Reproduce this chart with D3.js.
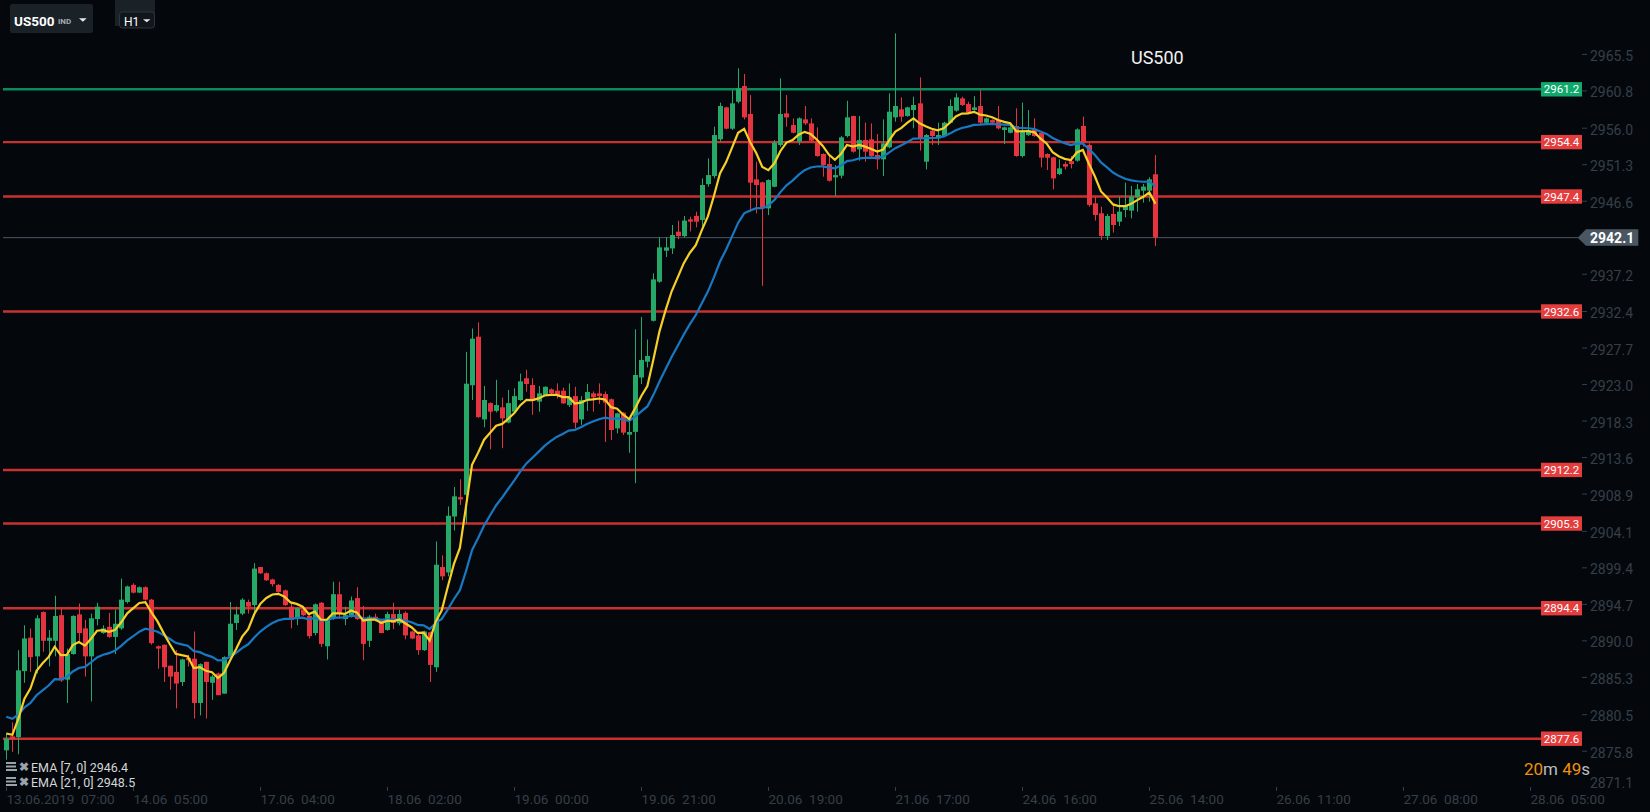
<!DOCTYPE html>
<html><head><meta charset="utf-8">
<script src="https://cdn.jsdelivr.net/npm/d3@7"></script>
<style>html,body{margin:0;padding:0;background:#04080c;overflow:hidden}svg{display:block;font-family:Roboto,"Noto Sans",sans-serif}</style>
</head><body><svg id="c" width="1650" height="812"></svg>
<script>
// ---- data (hourly US500 candles, 13.06.2019 07:00 -> 25.06 15:00) ----
const opens = [2876.1,2877.9,2877.8,2886.3,2890.6,2888.2,2893.9,2890.2,2890.2,2893.5,2885.2,2888.5,2893.6,2891.8,2888.2,2893.0,2891.2,2892.0,2890.7,2891.8,2895.2,2897.4,2896.4,2897.1,2895.5,2889.5,2889.7,2887.0,2886.2,2884.9,2888.0,2887.9,2882.2,2887.5,2884.8,2886.0,2883.4,2888.2,2892.5,2893.7,2895.2,2894.8,2899.7,2898.9,2898.1,2897.4,2896.7,2894.6,2893.0,2894.2,2893.4,2891.2,2895.1,2889.5,2893.1,2896.2,2893.0,2893.5,2895.7,2893.0,2890.2,2893.3,2892.8,2891.6,2893.65,2892.45,2893.8,2891.4,2890.9,2889.0,2891.3,2886.8,2899.7,2899.0,2906.2,2908.7,2909.0,2923.1,2929.35,2918.7,2920.8,2919.8,2920.26,2918.3,2919.7,2921.2,2924.0,2923.13,2921.0,2921.85,2922.57,2922.4,2922.4,2920.55,2921.7,2918.7,2921.3,2922.06,2922.06,2921.97,2921.3,2917.55,2919.57,2916.74,2917.1,2924.1,2926.13,2931.4,2936.43,2940.42,2940.72,2942.87,2942.3,2944.46,2944.9,2944.37,2948.99,2950.03,2954.76,2958.87,2956.13,2959.6,2961.62,2958.02,2949.61,2949.22,2945.87,2948.66,2954.03,2958.1,2956.6,2954.45,2957.33,2956.81,2954.45,2952.87,2951.58,2949.86,2950.08,2955.18,2957.76,2953.47,2954.67,2954.76,2952.74,2952.18,2953.73,2957.59,2958.62,2957.76,2958.53,2959.39,2951.88,2955.87,2954.88,2955.18,2956.9,2958.45,2960.03,2959.3,2958.53,2959.05,2956.9,2957.24,2957.24,2955.96,2955.61,2956.47,2952.61,2955.31,2956.04,2955.61,2952.87,2952.44,2950.29,2951.58,2951.95,2952.01,2956.48,2954.03,2946.52,2945.24,2942.32,2945.15,2944.16,2945.66,2945.58,2947.3,2948.15,2948.15,2950.26];
const highs = [2878.3,2879.7,2889.0,2892.2,2891.8,2893.5,2894.0,2891.6,2896.0,2894.4,2889.2,2893.5,2895.0,2892.9,2893.7,2895.1,2892.2,2893.8,2894.2,2898.2,2897.3,2897.6,2897.2,2897.2,2895.6,2889.6,2889.7,2887.0,2889.0,2887.9,2888.4,2891.4,2887.3,2887.5,2885.8,2886.1,2888.2,2895.2,2894.6,2895.7,2895.5,2900.2,2899.7,2899.0,2898.2,2897.5,2896.8,2895.0,2894.5,2894.4,2893.5,2895.0,2895.2,2893.1,2897.8,2897.8,2894.6,2895.9,2897.1,2894.7,2893.5,2893.7,2892.9,2893.95,2895.1,2894.2,2894.0,2891.5,2891.1,2891.5,2891.4,2903.0,2901.2,2907.5,2910.0,2911.0,2927.4,2930.4,2931.2,2923.0,2920.9,2923.8,2921.5,2922.5,2922.7,2924.6,2925.1,2924.0,2923.0,2922.95,2922.7,2923.34,2922.8,2923.34,2922.9,2921.7,2923.26,2922.3,2923.34,2922.3,2921.4,2919.57,2919.65,2918.4,2930.3,2931.9,2929.0,2937.5,2942.14,2942.14,2943.73,2944.28,2944.9,2944.8,2945.44,2949.73,2952.31,2956.39,2959.48,2958.96,2961.11,2963.9,2963.17,2960.46,2951.88,2949.31,2949.61,2954.67,2962.61,2960.46,2957.46,2957.59,2959.05,2957.46,2956.3,2952.95,2952.61,2951.45,2955.18,2959.73,2957.8,2957.76,2956.9,2956.81,2955.44,2957.33,2960.68,2968.4,2960.16,2958.96,2960.25,2962.74,2955.44,2955.96,2956.9,2957.03,2959.9,2960.68,2960.25,2959.6,2960.33,2961.11,2957.59,2957.33,2959.05,2956.39,2956.6,2958.75,2959.48,2958.53,2957.46,2955.74,2952.95,2952.52,2952.18,2951.88,2952.6,2956.17,2957.68,2954.25,2947.38,2946.09,2945.15,2946.31,2947.38,2949.18,2948.75,2949.01,2949.01,2949.87,2952.75];
const lows = [2874.9,2875.9,2875.6,2884.8,2886.2,2886.0,2888.8,2886.9,2888.2,2884.9,2882.2,2888.4,2890.1,2885.6,2882.4,2892.2,2891.1,2890.6,2888.5,2891.6,2895.0,2896.3,2896.4,2895.4,2889.7,2886.6,2884.9,2883.9,2881.5,2884.4,2886.9,2880.2,2880.6,2880.2,2882.6,2883.2,2883.4,2887.7,2891.6,2893.5,2893.7,2893.7,2898.8,2897.9,2897.2,2896.4,2894.7,2891.8,2892.2,2893.4,2890.5,2890.9,2889.4,2887.8,2892.9,2893.1,2892.2,2893.2,2892.9,2887.7,2889.4,2892.7,2891.2,2891.5,2891.7,2892.2,2890.4,2890.4,2888.4,2888.9,2884.9,2886.2,2898.0,2898.5,2904.4,2907.7,2905.3,2921.2,2918.9,2917.7,2914.85,2919.6,2915.0,2918.2,2919.5,2921.1,2922.27,2919.3,2919.7,2921.8,2921.95,2921.4,2920.7,2920.3,2917.55,2918.0,2919.8,2919.7,2920.7,2915.8,2916.05,2916.9,2916.7,2914.4,2910.5,2923.26,2925.4,2931.3,2936.3,2939.6,2940.0,2941.9,2942.14,2942.9,2943.43,2943.51,2948.66,2949.73,2954.45,2956.04,2955.96,2959.39,2957.33,2945.44,2945.23,2935.9,2945.01,2948.58,2953.81,2956.39,2955.53,2954.03,2956.6,2954.45,2952.52,2949.95,2949.31,2947.46,2949.73,2955.01,2953.04,2952.01,2951.88,2952.52,2950.89,2950.03,2953.6,2957.03,2957.03,2957.67,2956.17,2953.3,2950.89,2954.03,2954.03,2955.1,2956.81,2958.32,2959.05,2958.1,2958.45,2956.73,2956.81,2956.81,2956.04,2954.15,2955.53,2952.52,2952.44,2955.18,2955.1,2951.15,2950.81,2948.32,2950.16,2950.89,2951.02,2951.88,2953.82,2946.09,2944.29,2941.8,2941.8,2942.75,2943.6,2944.72,2944.59,2945.45,2946.61,2946.74,2941.03];
const closes = [2877.6,2877.6,2886.4,2890.5,2888.1,2893.1,2890.2,2890.6,2893.4,2885.1,2888.5,2893.4,2891.2,2888.2,2893.1,2894.6,2891.8,2890.7,2892.4,2895.5,2897.2,2896.4,2897.1,2895.5,2889.9,2889.2,2886.8,2885.6,2884.7,2887.8,2887.7,2882.2,2887.2,2884.9,2885.6,2883.2,2888.1,2892.4,2893.6,2895.5,2894.6,2899.5,2898.9,2898.0,2897.5,2896.5,2894.8,2892.9,2894.4,2893.5,2890.8,2894.9,2889.8,2892.9,2896.2,2893.7,2893.5,2895.4,2893.0,2889.8,2893.3,2892.9,2891.2,2893.65,2892.5,2893.65,2890.9,2890.5,2889.0,2891.4,2887.1,2900.0,2898.5,2906.3,2908.8,2908.4,2923.3,2929.1,2919.0,2921.2,2919.7,2920.55,2918.84,2920.8,2921.7,2923.6,2923.26,2921.1,2922.06,2922.9,2922.06,2921.85,2920.77,2921.55,2918.28,2921.2,2922.23,2921.55,2921.7,2920.86,2917.34,2919.48,2917.0,2917.08,2924.42,2926.35,2926.86,2936.73,2940.85,2940.85,2942.44,2942.3,2944.3,2944.16,2944.16,2948.88,2950.16,2955.31,2959.05,2956.13,2959.39,2961.32,2957.59,2949.18,2948.88,2945.87,2949.52,2954.33,2958.02,2957.59,2955.61,2957.46,2956.81,2954.58,2952.61,2951.45,2949.43,2950.16,2955.01,2957.59,2953.17,2954.67,2953.17,2952.61,2952.18,2954.24,2958.32,2959.05,2957.67,2958.87,2959.18,2954.88,2955.31,2955.18,2955.31,2956.9,2959.05,2960.16,2959.18,2958.19,2958.87,2956.9,2957.46,2956.9,2956.17,2956.3,2956.3,2952.61,2955.87,2955.87,2955.18,2952.4,2952.4,2949.73,2951.02,2951.24,2951.58,2956.04,2954.33,2946.31,2945.02,2942.32,2944.89,2943.73,2945.45,2946.18,2947.38,2948.33,2948.67,2949.61,2942.1];

const xTickIndex = [0,21,42,63,84,105,126,147,168,189,210,231,252];
const xTickLabels = ["13.06.2019  07:00","14.06  05:00","17.06  04:00","18.06  02:00","19.06  00:00","19.06  21:00","20.06  19:00","21.06  17:00","24.06  16:00","25.06  14:00","26.06  11:00","27.06  08:00","28.06  05:00"];
const yTickLabels = ["2965.5","2960.8","2956.0","2951.3","2946.6","2941.9","2937.2","2932.4","2927.7","2923.0","2918.3","2913.6","2908.9","2904.1","2899.4","2894.7","2890.0","2885.3","2880.5","2875.8","2871.1"];
const supportLevels = [2954.4, 2947.4, 2932.6, 2912.2, 2905.3, 2894.4, 2877.6];
const resistanceLevels = [2961.2];
const lastPrice = 2942.1;
const ema7Start = 2878.5, ema21Start = 2880.7; // indicator values before first candle
const legendRows = ["EMA [7, 0] 2946.4", "EMA [21, 0] 2948.5"];

// ---- drawing ----
const svg = d3.select("#c");
const W = 1650, H = 812;
const C = {bg:"#04080c", up:"#26a869", down:"#e5343f", red:"#c93030", green:"#0b8a5a",
  redBox:"#e43d3d", greenBox:"#10a86c", axis:"#363f48", ema7:"#f7cf26", ema21:"#1878c2"};
svg.append("rect").attr("width",W).attr("height",H).attr("fill",C.bg);

const x = d3.scaleLinear().domain([0, 252]).range([6.3, 6.3 + 252*6.048]);
const y = d3.scaleLinear().domain([2961.2, 2877.6]).range([89.3, 738.7]);

function ema(vals, n, start){ const k = 2/(n+1); let e = start; return vals.map(v => (e = e + k*(v - e))); }
const e7 = ema(closes, 7, ema7Start), e21 = ema(closes, 21, ema21Start);

// level lines
const lvl = svg.append("g");
function levelLine(v, col){
  const yy = y(v);
  lvl.append("line").attr("x1",3).attr("x2",1541).attr("y1",yy).attr("y2",yy)
    .attr("stroke",col).attr("stroke-width",2.4);
}
resistanceLevels.forEach(v=>levelLine(v, C.green));
supportLevels.forEach(v=>levelLine(v, C.red));
svg.append("line").attr("x1",3).attr("x2",1578).attr("y1",y(lastPrice)).attr("y2",y(lastPrice))
  .attr("stroke","#4b5763").attr("stroke-width",1);

// candles
const cg = svg.append("g");
closes.forEach((c,i)=>{
  const o = opens[i], up = c >= o, col = up ? C.up : C.down;
  const cx = Math.round(x(i)) + 0.5;
  cg.append("line").attr("x1",cx).attr("x2",cx).attr("y1",y(highs[i])).attr("y2",y(lows[i]))
    .attr("stroke",col).attr("stroke-width",1);
  const top = y(Math.max(o,c)), bot = y(Math.min(o,c));
  cg.append("rect").attr("x",cx-2.5).attr("y",top).attr("width",5).attr("height",Math.max(1,bot-top)).attr("fill",col);
});

// EMA lines
const line = d3.line().x((d,i)=>x(i)).y(d=>y(d));
svg.append("path").attr("d",line(e21)).attr("fill","none").attr("stroke",C.ema21).attr("stroke-width",2.2);
svg.append("path").attr("d",line(e7)).attr("fill","none").attr("stroke",C.ema7).attr("stroke-width",2.2);

// y axis
const ya = svg.append("g");
yTickLabels.forEach(t=>{
  const v = +t; let yy = y(v);
  if (yy > 780) { yy = 783; }
  else ya.append("line").attr("x1",1582).attr("x2",1587).attr("y1",yy-1.5).attr("y2",yy-1.5).attr("stroke",C.axis);
  ya.append("text").attr("x",1590).attr("y",yy).attr("dy","0.36em").attr("fill",C.axis)
    .attr("font-size",14).text(t);
});

// level labels
function levelLabel(v, col){
  const yy = y(v);
  svg.append("rect").attr("x",1541).attr("y",yy-7.2).attr("width",41).attr("height",14.4).attr("fill",col);
  svg.append("text").attr("x",1561.5).attr("y",yy).attr("dy","0.36em").attr("text-anchor","middle")
    .attr("fill","#fff").attr("font-size",11.5).text(v.toFixed(1));
}
resistanceLevels.forEach(v=>levelLabel(v, C.greenBox));
supportLevels.forEach(v=>levelLabel(v, C.redBox));

// last price label
const ly = y(lastPrice);
svg.append("path").attr("d",`M1577.7,${ly} L1586,${ly-8.5} L1638.3,${ly-8.5} L1638.3,${ly+8} L1586,${ly+8} Z`).attr("fill","#4a5762");
svg.append("text").attr("x",1590).attr("y",ly).attr("dy","0.36em").attr("fill","#fff").attr("font-size",14)
  .attr("font-weight","bold").text(lastPrice.toFixed(1));

// x axis
const xa = svg.append("g");
xTickIndex.forEach((ix,k)=>{
  const xx = Math.round(x(ix)) + 0.5;
  xa.append("line").attr("x1",xx).attr("x2",xx).attr("y1",787).attr("y2",791).attr("stroke",C.axis);
  xa.append("text").attr("x",xx).attr("y",804).attr("fill",C.axis).attr("font-size",13.5)
    .style("white-space","pre").text(xTickLabels[k]);
});

// title
svg.append("text").attr("x",1131).attr("y",64).attr("fill","#f2f2f2").attr("font-size",18).text("US500");

// top-left controls
svg.append("rect").attr("x",10).attr("y",4).attr("width",83).attr("height",29).attr("rx",2).attr("fill","#1a2127");
svg.append("text").attr("x",14).attr("y",25.5).attr("fill","#fff").attr("font-size",13.5).attr("font-weight","bold").text("US500");
svg.append("text").attr("x",58).attr("y",24).attr("fill","#a9adb1").attr("font-size",8).attr("font-weight","bold").text("IND");
svg.append("path").attr("d","M79,18.3 L86.7,18.3 L82.85,21.8 Z").attr("fill","#e8e8e8");
svg.append("rect").attr("x",115).attr("y",0).attr("width",40).attr("height",26).attr("fill","#1a2127");
svg.append("rect").attr("x",119.5).attr("y",12).attr("width",35).attr("height",16).attr("rx",3).attr("fill","#10161b").attr("stroke","#2c353c");
svg.append("text").attr("x",124).attr("y",25.5).attr("fill","#fff").attr("font-size",12).text("H1");
svg.append("path").attr("d","M143,19.3 L150.5,19.3 L146.75,22.3 Z").attr("fill","#e8e8e8");

// legend
legendRows.forEach((t,k)=>{
  const yy = 767 + k*15;
  const g = svg.append("g");
  g.append("rect").attr("x",6).attr("y",yy-5).attr("width",10).attr("height",2).attr("fill","#9aa3aa");
  g.append("rect").attr("x",6).attr("y",yy-1.5).attr("width",10).attr("height",2).attr("fill","#9aa3aa");
  g.append("rect").attr("x",6).attr("y",yy+2).attr("width",11).attr("height",2).attr("fill","#9aa3aa");
  g.append("text").attr("x",19).attr("y",yy).attr("dy","0.36em").attr("fill","#9aa3aa").attr("font-size",12).attr("font-weight","bold").text("✖");
  g.append("text").attr("x",31).attr("y",yy).attr("dy","0.36em").attr("fill","#d4d6d8").attr("font-size",12.5).text(t);
});

// countdown
const tm = svg.append("text").attr("x",1524).attr("y",775).attr("font-size",17);
tm.append("tspan").attr("fill","#f0900c").text("20");
tm.append("tspan").attr("fill","#b9bdc1").text("m ");
tm.append("tspan").attr("fill","#f0900c").text("49");
tm.append("tspan").attr("fill","#b9bdc1").text("s");
</script>
</body></html>
